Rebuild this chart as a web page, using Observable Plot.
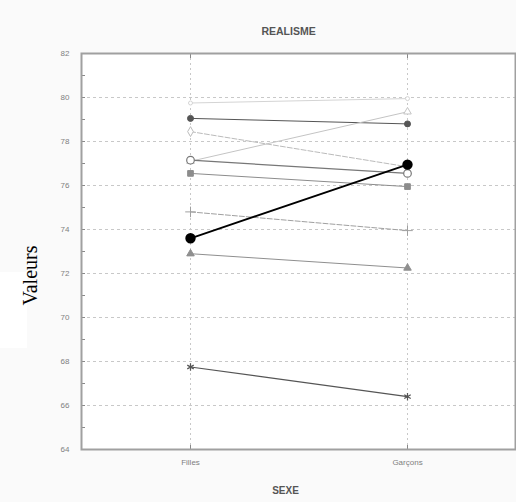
<!DOCTYPE html>
<html>
<head>
<meta charset="utf-8">
<script src="https://cdn.jsdelivr.net/npm/d3@7"></script>
<script src="https://cdn.jsdelivr.net/npm/@observablehq/plot@0.6"></script>
<style>
  html, body { margin: 0; padding: 0; background: #fafafa; }
  #wrap { position: relative; width: 516px; height: 502px; }
  #patch { position: absolute; left: 0; top: 272px; width: 27px; height: 76px; background: #fff; }
  #chart { position: absolute; left: 0; top: 0; }
  #chart svg { background: transparent; }
</style>
</head>
<body>
<div id="wrap"><div id="patch"></div><div id="chart"></div></div>
<script>
const categories = ["Filles", "Garçons"];
const series = ["S1", "S2", "S3", "S4", "S5", "S6", "S7", "S8", "S9", "S10"];
const filles  = [79.75, 79.05, 78.45, 77.10, 77.15, 76.55, 74.80, 73.60, 72.90, 67.75];
const garcons = [79.95, 78.80, 76.85, 79.35, 76.55, 75.95, 73.95, 76.95, 72.25, 66.40];
const yTicks = [64, 66, 68, 70, 72, 74, 76, 78, 80, 82];

// styles (kept separately from the data)
const styles = [
  {stroke: "#d4d4d4", symbol: "circle",   fill: "#fff",    r: 2,   sw: 1},
  {stroke: "#555",    symbol: "circle",   fill: "#555",    r: 3,   sw: 1},
  {stroke: "#bbb",    symbol: "diamond",  fill: "#fff",    r: 3,   sw: 1, dash: "5,2"},
  {stroke: "#c4c4c4", symbol: "triangle", fill: "#fff",    r: 2.8, sw: 1},
  {stroke: "#777",    symbol: "circle",   fill: "#fff",    r: 3.8, sw: 1.2},
  {stroke: "#8c8c8c", symbol: "square",   fill: "#8c8c8c", r: 3.2, sw: 1},
  {stroke: "#a0a0a0", symbol: "plus",     fill: "none",    r: 3.5, sw: 1, dash: "5,2"},
  {stroke: "#000",    symbol: "circle",   fill: "#000",    r: 4.3, sw: 1.8},
  {stroke: "#8f8f8f", symbol: "triangle", fill: "#8f8f8f", r: 2.8, sw: 1},
  {stroke: "#555",    symbol: "asterisk", fill: "none",    r: 3.5, sw: 1.2}
];

const data = series.flatMap((s, i) => [
  {series: s, idx: i, sexe: categories[0], value: filles[i]},
  {series: s, idx: i, sexe: categories[1], value: garcons[i]}
]);

const minor = d3.range(64, 83, 1);

const lineMarks = series.map((s, i) => Plot.line(data.filter(d => d.idx === i), {
  x: "sexe", y: "value",
  stroke: styles[i].stroke, strokeWidth: styles[i].sw,
  strokeDasharray: styles[i].dash || null
}));
const dotMarks = series.map((s, i) => Plot.dot(data.filter(d => d.idx === i), {
  x: "sexe", y: "value",
  symbol: styles[i].symbol, r: styles[i].r,
  stroke: styles[i].stroke, fill: styles[i].fill, strokeWidth: styles[i].sw
}));

const chart = Plot.plot({
  width: 516,
  height: 502,
  marginLeft: 81,
  marginRight: 1,
  marginTop: 53,
  marginBottom: 53,
  style: {background: "transparent", fontFamily: "Arial, 'Liberation Sans', sans-serif"},
  x: {type: "point", domain: categories, padding: 0.5, label: null},
  y: {domain: [64, 82], label: null},
  marks: [
    Plot.frame({fill: "#fff", stroke: "none"}),
    Plot.gridY(yTicks, {stroke: "#c8c8c8", strokeOpacity: 1, strokeDasharray: "3,3"}),
    Plot.gridX(categories, {stroke: "#c8c8c8", strokeOpacity: 1, strokeDasharray: "2,3"}),
    Plot.axisY(minor, {anchor: "left", tickSize: 4, dx: 4, tickFormat: () => "", stroke: "#888", label: null}),
    Plot.axisY(yTicks, {anchor: "left", tickSize: 0, tickPadding: 12, fontSize: 8, fill: "#808080", label: null}),
    Plot.axisX(categories, {anchor: "bottom", tickSize: 4, dy: -4, tickFormat: () => "", stroke: "#888", label: null}),
    Plot.axisX(categories, {anchor: "top", tickSize: 4, dy: 4, tickFormat: () => "", stroke: "#888", label: null}),
    Plot.axisX(categories, {anchor: "bottom", tickSize: 0, tickPadding: 10, fontSize: 8, fill: "#808080", label: null}),
    ...lineMarks,
    ...dotMarks,
    Plot.frame({stroke: "#a0a0a0", strokeWidth: 2}),
    Plot.text(["REALISME"], {frameAnchor: "top", dx: -10, dy: -26, fontSize: 10.5, fill: "#555", fontWeight: "bold"}),
    Plot.text(["SEXE"], {frameAnchor: "bottom", dx: -13, dy: 44, fontSize: 10, fill: "#555", fontWeight: "bold"}),
    Plot.text(["Valeurs"], {frameAnchor: "left", textAnchor: "middle", dx: -51, dy: 24, rotate: -90, fontSize: 20, fill: "#000", fontFamily: "'Liberation Serif', 'Times New Roman', serif"})
  ]
});
document.getElementById("chart").appendChild(chart);
</script>
</body>
</html>
